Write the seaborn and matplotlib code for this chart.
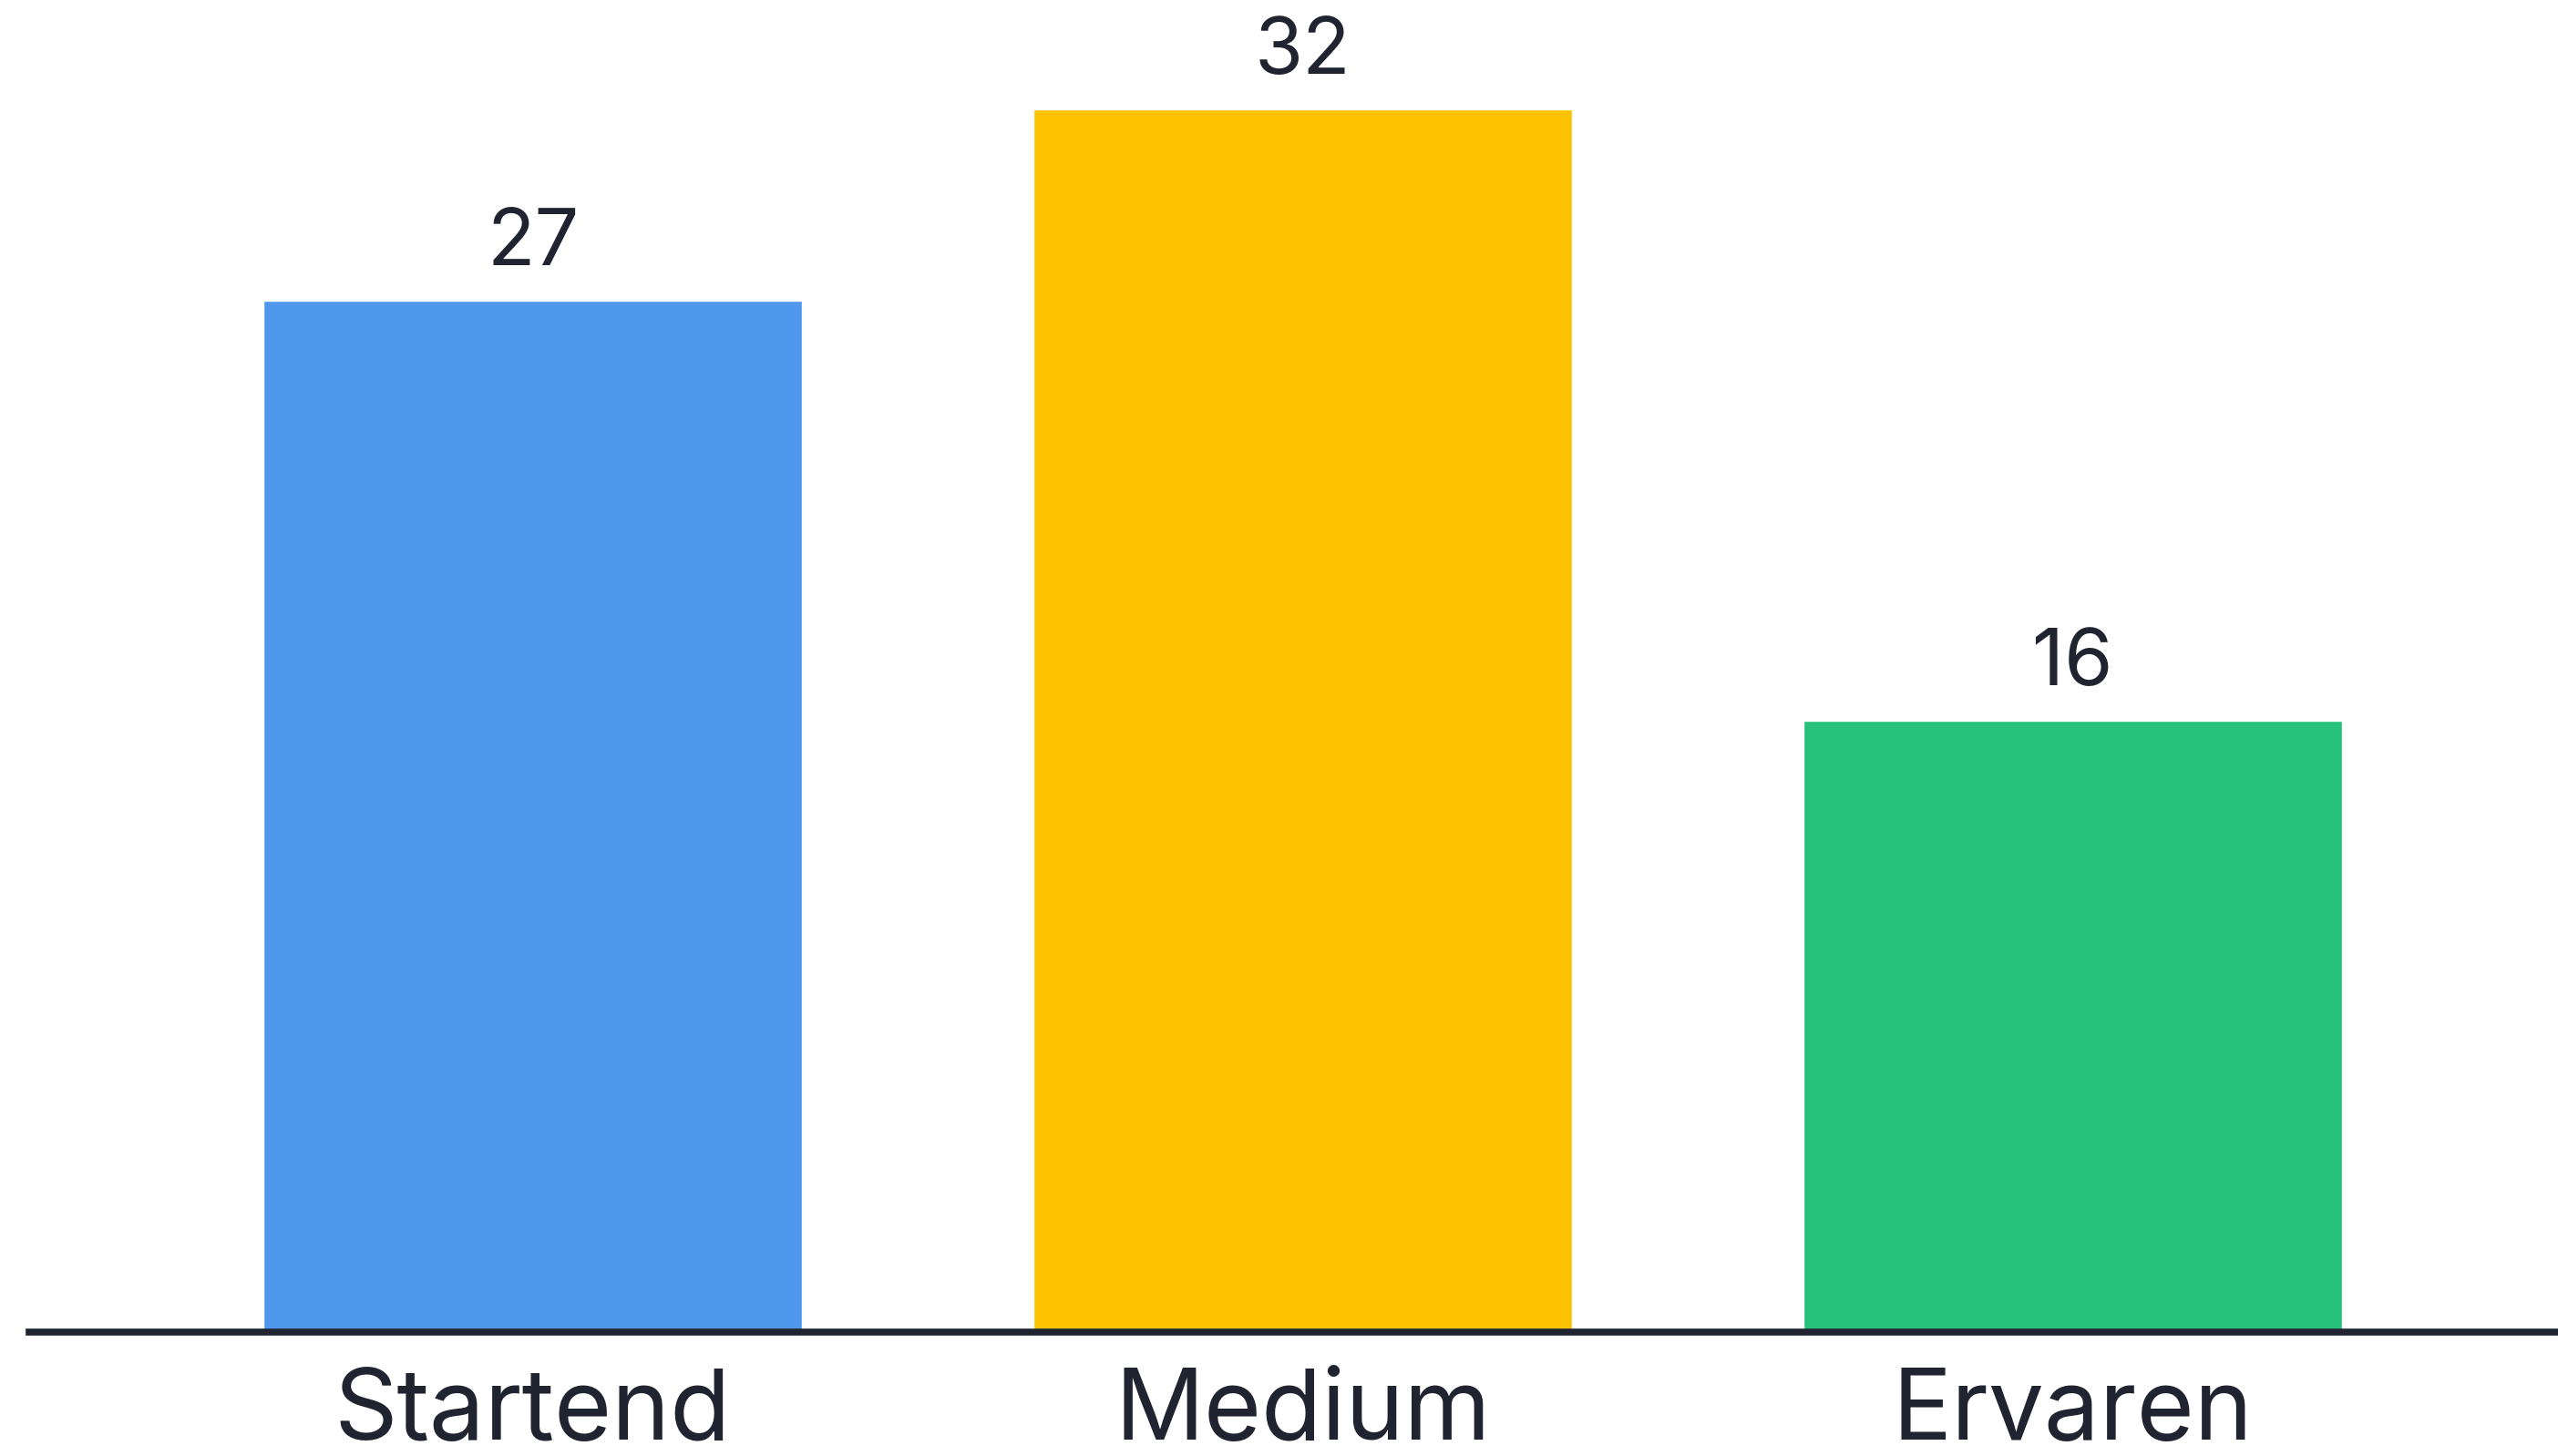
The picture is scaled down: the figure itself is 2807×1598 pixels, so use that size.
import pandas as pd
import numpy as np
import matplotlib
matplotlib.use('Agg')
import matplotlib.pyplot as plt
import seaborn as sns

sns.set_style('white')
plt.rcParams['font.family'] = ['Inter', 'DejaVu Sans']

# data
levels = ['Startend', 'Medium', 'Ervaren']
counts = [27, 32, 16]
colors = ['#4F98EE', '#FCC200', '#27C17C']

df = pd.DataFrame({'niveau': levels, 'aantal': counts})

text_col = '#1F2430'
my_dpi = 100
fig = plt.figure(figsize=(28.07, 15.98), dpi=my_dpi)
ax = fig.add_axes([32 / 2807, 136 / 1598, 2775 / 2807, 1462 / 1598])

sns.barplot(data=df, x='niveau', y='aantal', hue='niveau', palette=colors,
            saturation=1, width=0.7, legend=False, ax=ax)

for c in ax.containers:
    ax.bar_label(c, padding=15, fontsize=62, color=text_col)

ax.set_xlim(-0.654, 2.63)
ax.set_ylim(0, 34.87)
sns.despine(ax=ax, left=True, top=True, right=True)
ax.spines['bottom'].set_linewidth(5.5)
ax.spines['bottom'].set_color(text_col)
ax.set_yticks([])
ax.set_xlabel('')
ax.set_ylabel('')
ax.tick_params(axis='x', length=0, pad=28, labelsize=78, labelcolor=text_col)

fig.savefig('out.png', dpi=my_dpi, facecolor='white')
